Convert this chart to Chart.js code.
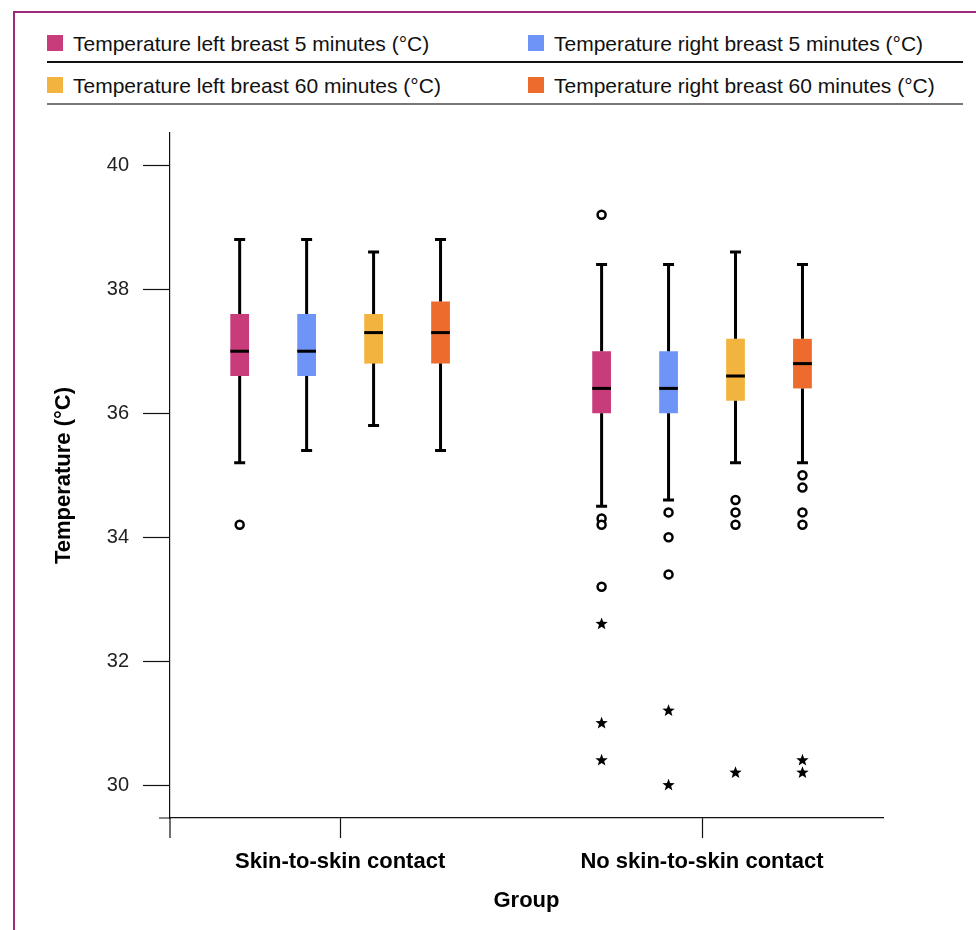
<!DOCTYPE html>
<html>
<head>
<meta charset="utf-8">
<script src="https://cdn.jsdelivr.net/npm/chart.js@4/dist/chart.umd.min.js"></script>
<style>
body{margin:0;background:#fff;font-family:"Liberation Sans",Arial,sans-serif;}
#wrap{position:relative;width:976px;height:930px;overflow:hidden;}
#frameTop{position:absolute;left:13px;top:11px;width:963px;height:2px;background:#9b2a7a;}
#frameLeft{position:absolute;left:13px;top:11px;width:2px;height:919px;background:#9b2a7a;}
.item{position:absolute;font-size:21px;color:#111;line-height:22px;white-space:nowrap;}
.sq{position:absolute;width:16px;height:16px;}
.rule{position:absolute;left:47px;width:916px;}
canvas{position:absolute;left:0;top:0;}
</style>
</head>
<body>
<div id="wrap">
<div id="frameTop"></div><div id="frameLeft"></div>
<div id="legend"></div>
<div class="rule" style="top:61px;height:1.5px;background:#111;"></div>
<div class="rule" style="top:103px;height:2px;background:#777;"></div>
<canvas id="chart" width="976" height="930"></canvas>
</div>
<script>
const groups = ["Skin-to-skin contact", "No skin-to-skin contact"];
const seriesNames = [
  "Temperature left breast 5 minutes (°C)",
  "Temperature right breast 5 minutes (°C)",
  "Temperature left breast 60 minutes (°C)",
  "Temperature right breast 60 minutes (°C)"
];
const colors = ["#c93c7c", "#6d94f6", "#f3b43f", "#ec6b2d"];
const yTicks = [30, 32, 34, 36, 38, 40];

// per series: [skin-to-skin, no skin-to-skin]
const whiskerLow = [[35.2, 34.5], [35.4, 34.6], [35.8, 35.2], [35.4, 35.2]];
const q1 = [[36.6, 36.0], [36.6, 36.0], [36.8, 36.2], [36.8, 36.4]];
const median = [[37.0, 36.4], [37.0, 36.4], [37.3, 36.6], [37.3, 36.8]];
const q3 = [[37.6, 37.0], [37.6, 37.0], [37.6, 37.2], [37.8, 37.2]];
const whiskerHigh = [[38.8, 38.4], [38.8, 38.4], [38.6, 38.6], [38.8, 38.4]];
const outliers = [
  [[34.2], [39.2, 34.3, 34.2, 33.2]],
  [[], [34.4, 34.0, 33.4]],
  [[], [34.6, 34.4, 34.2]],
  [[], [35.0, 34.8, 34.4, 34.2]]
];
const extremes = [
  [[], [32.6, 31.0, 30.4]],
  [[], [31.2, 30.0]],
  [[], [30.2]],
  [[], [30.4, 30.2]]
];

// legend
const leg = document.getElementById("legend");
const legPos = [[47, 35], [528, 35], [47, 77], [528, 77]];
seriesNames.forEach((name, i) => {
  const sq = document.createElement("div");
  sq.className = "sq";
  sq.style.left = legPos[i][0] + "px";
  sq.style.top = legPos[i][1] + "px";
  sq.style.background = colors[i];
  leg.appendChild(sq);
  const t = document.createElement("div");
  t.className = "item";
  t.style.left = (legPos[i][0] + 26) + "px";
  t.style.top = (legPos[i][1] - 2) + "px";
  t.textContent = name;
  leg.appendChild(t);
});

function star(ctx, x, y, r) {
  ctx.beginPath();
  for (let k = 0; k < 10; k++) {
    const rr = k % 2 === 0 ? r : r * 0.42;
    const a = -Math.PI / 2 + k * Math.PI / 5;
    ctx.lineTo(x + rr * Math.cos(a), y + rr * Math.sin(a));
  }
  ctx.closePath();
  ctx.fill();
}

const boxPlugin = {
  id: "boxes",
  afterDatasetsDraw(chart) {
    const ctx = chart.ctx;
    const y = chart.scales.y;
    ctx.save();
    ctx.strokeStyle = "#000";
    ctx.fillStyle = "#000";
    chart.data.datasets.forEach((ds, s) => {
      const meta = chart.getDatasetMeta(s);
      meta.data.forEach((bar, g) => {
        const x = bar.x, w = bar.width;
        const capW = 11;
        ctx.lineWidth = 3;
        ctx.beginPath();
        ctx.moveTo(x, y.getPixelForValue(q3[s][g]));
        ctx.lineTo(x, y.getPixelForValue(whiskerHigh[s][g]));
        ctx.moveTo(x, y.getPixelForValue(q1[s][g]));
        ctx.lineTo(x, y.getPixelForValue(whiskerLow[s][g]));
        ctx.stroke();
        ctx.beginPath();
        [whiskerHigh[s][g], whiskerLow[s][g]].forEach(v => {
          const py = y.getPixelForValue(v);
          ctx.moveTo(x - capW / 2, py);
          ctx.lineTo(x + capW / 2, py);
        });
        ctx.stroke();
        ctx.beginPath();
        const my = y.getPixelForValue(median[s][g]);
        ctx.moveTo(x - w / 2, my);
        ctx.lineTo(x + w / 2, my);
        ctx.stroke();
        ctx.lineWidth = 2.5;
        outliers[s][g].forEach(v => {
          ctx.beginPath();
          ctx.arc(x, y.getPixelForValue(v), 4, 0, Math.PI * 2);
          ctx.fillStyle = "#fff";
          ctx.fill();
          ctx.stroke();
        });
        ctx.fillStyle = "#000";
        extremes[s][g].forEach(v => star(ctx, x, y.getPixelForValue(v), 6.5));
      });
    });
    // axis line extensions past the crossing
    const a = chart.chartArea;
    ctx.lineWidth = 1.2;
    ctx.strokeStyle = "#111";
    ctx.beginPath();
    ctx.moveTo(a.left - 11, a.bottom);
    ctx.lineTo(a.left, a.bottom);
    ctx.moveTo(a.left, a.bottom);
    ctx.lineTo(a.left, a.bottom + 20);
    ctx.stroke();
    ctx.restore();
  }
};

new Chart(document.getElementById("chart"), {
  type: "bar",
  data: {
    datasets: seriesNames.map((name, s) => ({
      label: name,
      data: groups.map((g, i) => ({ x: i, y: [q1[s][i], q3[s][i]] })),
      backgroundColor: colors[s],
      borderWidth: 0,
      categoryPercentage: 0.74,
      barPercentage: 0.28
    }))
  },
  options: {
    responsive: false,
    animation: false,
    layout: { padding: { top: 133, right: 93, left: 0, bottom: 0 } },
    plugins: { legend: { display: false }, tooltip: { enabled: false } },
    scales: {
      x: {
        type: "linear",
        min: -0.47,
        max: 1.5,
        offset: false,
        afterBuildTicks: sc => { sc.ticks = groups.map((g, i) => ({ value: i })); },
        afterFit: sc => { sc.height = 112; },
        ticks: {
          callback: v => groups[v],
          color: "#000",
          font: { family: "Liberation Sans", size: 22, weight: "bold" },
          padding: 11
        },
        grid: { offset: false, drawOnChartArea: false, tickLength: 20, color: "#111", tickWidth: 1.2 },
        border: { color: "#111", width: 1.2 },
        title: {
          display: true,
          text: "Group",
          color: "#000",
          font: { family: "Liberation Sans", size: 22, weight: "bold" },
          padding: { bottom: 16 }
        }
      },
      y: {
        min: 29.47,
        max: 40.52,
        afterBuildTicks: sc => { sc.ticks = yTicks.map(v => ({ value: v })); },
        afterFit: sc => { sc.width = 170; },
        ticks: {
          color: "#222",
          font: { family: "Liberation Sans", size: 20 },
          padding: 14
        },
        grid: { drawOnChartArea: false, tickLength: 27, color: "#111", tickWidth: 1.2 },
        border: { color: "#111", width: 1.2 },
        title: {
          display: true,
          text: "Temperature (°C)",
          color: "#000",
          font: { family: "Liberation Sans", size: 22, weight: "bold" },
          padding: { top: 51 }
        }
      }
    }
  },
  plugins: [boxPlugin]
});
</script>
</body>
</html>
